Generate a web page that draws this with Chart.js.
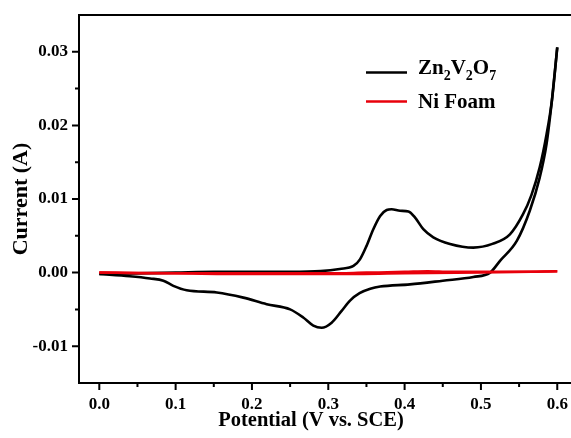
<!DOCTYPE html>
<html>
<head>
<meta charset="utf-8">
<script src="https://cdn.jsdelivr.net/npm/chart.js@4.4.1/dist/chart.umd.min.js"></script>
<style>
html,body{margin:0;padding:0;background:#fff;overflow:hidden;}
#wrap{position:relative;width:571px;height:438px;}
</style>
</head>
<body>
<div id="wrap"><canvas id="c" width="571" height="438"></canvas></div>
<script>
// ---- data ----
const xTickValues = [0.0, 0.1, 0.2, 0.3, 0.4, 0.5, 0.6];
const yTickValues = [-0.01, 0.00, 0.01, 0.02, 0.03];
const xMinorTicks = [0.05, 0.15, 0.25, 0.35, 0.45, 0.55];
const yMinorTicks = [-0.005, 0.005, 0.015, 0.025];

// Zn2V2O7 anodic (upper) branch
const znFwdPotential = [0, 0.05, 0.10, 0.15, 0.20, 0.25, 0.29, 0.315, 0.333, 0.3415, 0.350, 0.359, 0.368, 0.3765, 0.383, 0.394, 0.405, 0.4135, 0.4245, 0.4376, 0.4595, 0.49, 0.515, 0.538, 0.555, 0.566, 0.577, 0.586, 0.593, 0.60];
const znFwdCurrent   = [-0.0002, -0.0001, 0.0000, 0.0001, 0.0001, 0.0001, 0.0002, 0.0005, 0.0009, 0.0018, 0.0036, 0.0059, 0.0077, 0.0085, 0.0086, 0.0084, 0.0083, 0.0075, 0.0059, 0.0048, 0.0039, 0.0034, 0.0039, 0.0052, 0.0079, 0.0105, 0.0143, 0.0188, 0.0234, 0.0306];
// Zn2V2O7 cathodic (lower) branch
const znRevPotential = [0, 0.04, 0.0665, 0.084, 0.097, 0.1145, 0.154, 0.1887, 0.2193, 0.25, 0.2672, 0.2804, 0.2913, 0.3044, 0.3175, 0.3285, 0.341, 0.355, 0.368, 0.407, 0.45, 0.49, 0.512, 0.525, 0.547, 0.564, 0.577, 0.586, 0.593, 0.60];
const znRevCurrent   = [-0.0002, -0.0005, -0.0008, -0.0011, -0.0018, -0.0024, -0.0027, -0.0034, -0.0043, -0.0050, -0.0061, -0.0072, -0.0075, -0.0068, -0.0052, -0.0038, -0.0028, -0.0022, -0.0019, -0.0016, -0.0011, -0.0006, 0.0000, 0.0016, 0.0043, 0.0084, 0.0129, 0.0175, 0.0234, 0.0306];
// Ni foam
const niFwdPotential = [0, 0.1, 0.2, 0.3, 0.35, 0.4, 0.43, 0.46, 0.5, 0.55, 0.6];
const niFwdCurrent   = [0, -0.0001, -0.0001, -0.0001, 0.0000, 0.0001, 0.0002, 0.0001, 0.0001, 0.0001, 0.0002];
const niRevPotential = [0, 0.1, 0.2, 0.3, 0.4, 0.5, 0.6];
const niRevCurrent   = [0, -0.0001, -0.0002, -0.0002, -0.0001, 0.0000, 0.0002];

const pts = (xs, ys) => xs.map((x, i) => ({x: x, y: ys[i]}));

const FONT = '"Liberation Serif","Times New Roman",serif';

const axesPlugin = {
  id: 'axesPlugin',
  afterDraw(chart) {
    const ctx = chart.ctx;
    const a = chart.chartArea;
    const xs = chart.scales.x, ys = chart.scales.y;
    ctx.save();
    ctx.strokeStyle = '#000';
    ctx.lineWidth = 2;
    ctx.lineCap = 'butt';
    // spines: left, bottom, top
    ctx.beginPath();
    ctx.moveTo(a.left, a.top); ctx.lineTo(a.right, a.top);
    ctx.moveTo(a.left, a.top - 1); ctx.lineTo(a.left, a.bottom + 1);
    ctx.moveTo(a.left - 1, a.bottom); ctx.lineTo(a.right, a.bottom);
    ctx.stroke();
    // ticks
    ctx.beginPath();
    xTickValues.forEach(v => { const p = xs.getPixelForValue(v); ctx.moveTo(p, a.bottom); ctx.lineTo(p, a.bottom + 7); });
    xMinorTicks.forEach(v => { const p = xs.getPixelForValue(v); ctx.moveTo(p, a.bottom); ctx.lineTo(p, a.bottom + 4); });
    yTickValues.forEach(v => { const p = ys.getPixelForValue(v); ctx.moveTo(a.left, p); ctx.lineTo(a.left - 7, p); });
    yMinorTicks.forEach(v => { const p = ys.getPixelForValue(v); ctx.moveTo(a.left, p); ctx.lineTo(a.left - 4, p); });
    ctx.stroke();

    // axis titles
    ctx.fillStyle = '#000';
    ctx.font = 'bold 20.5px ' + FONT;
    ctx.textAlign = 'center';
    ctx.textBaseline = 'middle';
    ctx.fillText('Potential (V vs. SCE)', 311, 421);
    ctx.save();
    ctx.translate(21, 199);
    ctx.rotate(-Math.PI / 2);
    ctx.font = 'bold 22px ' + FONT;
    ctx.fillText('Current (A)', 0, 0);
    ctx.restore();

    // legend
    ctx.lineWidth = 2.5;
    ctx.strokeStyle = '#000';
    ctx.beginPath(); ctx.moveTo(366, 72.5); ctx.lineTo(407, 72.5); ctx.stroke();
    ctx.strokeStyle = '#e8000b';
    ctx.beginPath(); ctx.moveTo(366, 101.5); ctx.lineTo(407, 101.5); ctx.stroke();
    ctx.textAlign = 'left';
    ctx.textBaseline = 'alphabetic';
    let x = 418;
    const big = 'bold 21px ' + FONT, small = 'bold 14px ' + FONT;
    const parts = [['Zn', big, 0], ['2', small, 6], ['V', big, 0], ['2', small, 6], ['O', big, 0], ['7', small, 6]];
    parts.forEach(p => { ctx.font = p[1]; ctx.fillText(p[0], x, 74 + p[2]); x += ctx.measureText(p[0]).width; });
    ctx.font = big;
    ctx.fillText('Ni Foam', 418, 108);
    ctx.restore();
  }
};

new Chart(document.getElementById('c'), {
  type: 'line',
  data: {
    datasets: [
      {label: 'Ni Foam', data: pts(niFwdPotential, niFwdCurrent), borderColor: '#e8000b', borderWidth: 2.5, pointRadius: 0, cubicInterpolationMode: 'monotone'},
      {label: 'Ni Foam rev', data: pts(niRevPotential, niRevCurrent), borderColor: '#e8000b', borderWidth: 2.5, pointRadius: 0, cubicInterpolationMode: 'monotone'},
      {label: 'Zn2V2O7', data: pts(znFwdPotential, znFwdCurrent), borderColor: '#000', borderWidth: 2.6, pointRadius: 0, cubicInterpolationMode: 'monotone'},
      {label: 'Zn2V2O7 rev', data: pts(znRevPotential, znRevCurrent), borderColor: '#000', borderWidth: 2.6, pointRadius: 0, cubicInterpolationMode: 'monotone'}
    ]
  },
  options: {
    responsive: false,
    animation: false,
    events: [],
    layout: {padding: {top: 15, right: 0, left: 0, bottom: 0}},
    plugins: {legend: {display: false}, tooltip: {enabled: false}},
    scales: {
      x: {
        type: 'linear', min: -0.0266, max: 0.618,
        grid: {display: false, drawTicks: false}, border: {display: false},
        afterBuildTicks: s => { s.ticks = xTickValues.map(v => ({value: v})); },
        afterFit: s => { s.height = 55; s.paddingLeft = 0; s.paddingRight = 0; },
        ticks: {padding: 11, color: '#000', font: {family: FONT, size: 17, weight: 'bold'}, maxRotation: 0, autoSkip: false,
                callback: v => Number(v).toFixed(1)}
      },
      y: {
        type: 'linear', min: -0.015, max: 0.035,
        grid: {display: false, drawTicks: false}, border: {display: false},
        afterBuildTicks: s => { s.ticks = yTickValues.map(v => ({value: v})); },
        afterFit: s => { s.width = 79; s.paddingTop = 0; s.paddingBottom = 0; },
        ticks: {padding: 11, color: '#000', font: {family: FONT, size: 17, weight: 'bold'}, autoSkip: false,
                callback: v => Number(v).toFixed(2)}
      }
    }
  },
  plugins: [axesPlugin]
});
</script>
</body>
</html>
